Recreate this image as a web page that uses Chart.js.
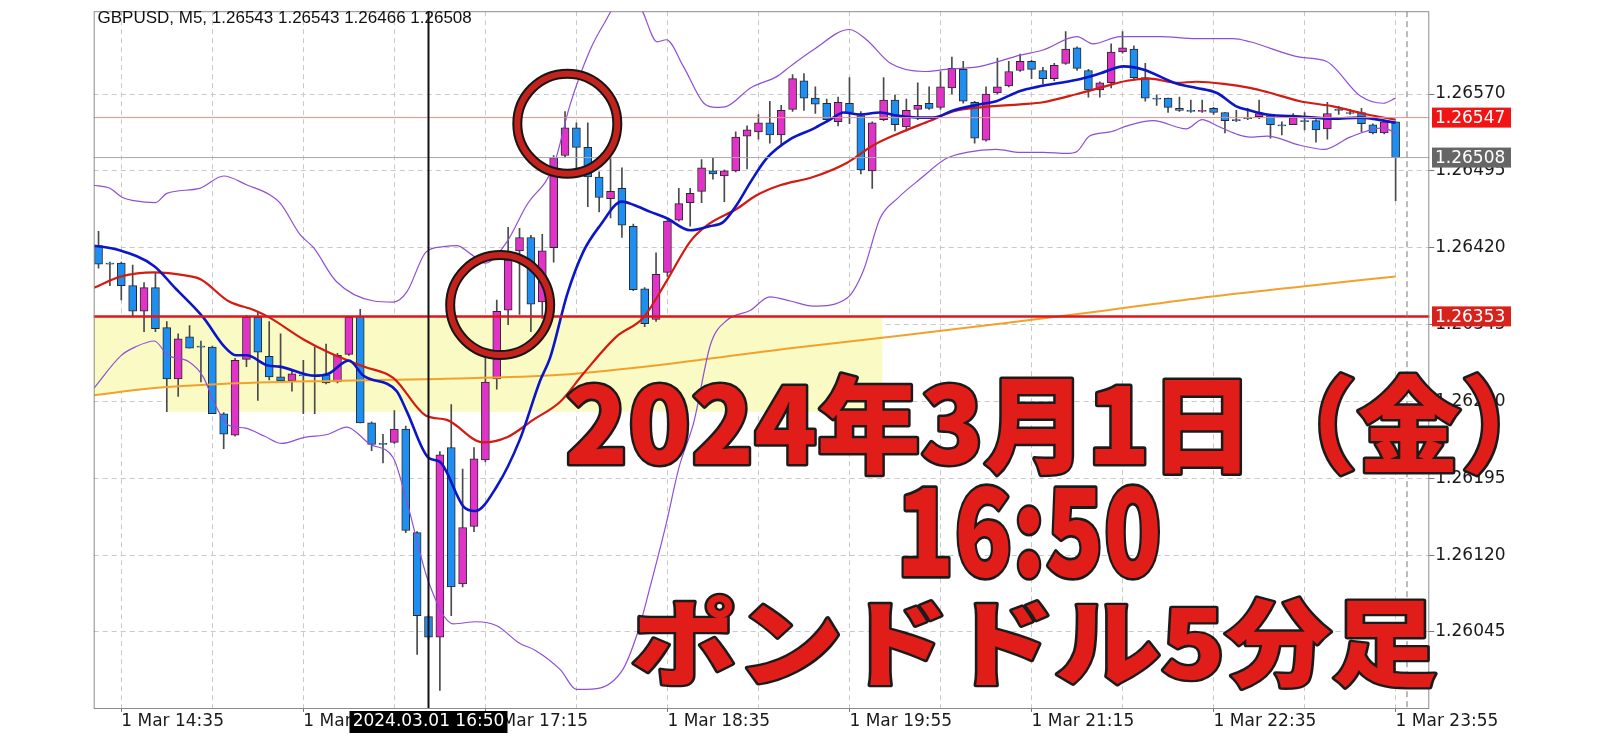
<!DOCTYPE html>
<html>
<head>
<meta charset="utf-8">
<script src="https://cdn.jsdelivr.net/npm/chart.js@4.4.1/dist/chart.umd.min.js"></script>
<style>
  html, body { margin: 0; padding: 0; background: #fff; overflow: hidden; }
</style>
</head>
<body>
<canvas id="myChart" width="1600" height="739"></canvas>
<script>
// GBPUSD M5, 1 Mar 14:25 .. 23:55 (bar index 0 = 14:25)
const openP = [1.26422,1.26405,1.26405,1.26383,1.26358,1.26381,1.26342,1.26292,1.26333,1.26324,
  1.26323,1.26258,1.26237,1.26311,1.26352,1.26314,1.26294,1.26290,1.26296,1.26295,
  1.26296,1.26289,1.26316,1.26353,1.26249,1.26229,1.26230,1.26243,1.26142,1.26060,
  1.26040,1.26225,1.26092,1.26148,1.26213,1.26292,1.26359,1.26417,1.26430,1.26367,
  1.26420,1.26510,1.26537,1.26518,1.26489,1.26468,1.26478,1.26441,1.26380,1.26350,
  1.26396,1.26447,1.26464,1.26475,1.26495,1.26490,1.26495,1.26529,1.26533,1.26542,
  1.26530,1.26555,1.26583,1.26566,1.26561,1.26543,1.26561,1.26549,1.26495,1.26545,
  1.26564,1.26538,1.26555,1.26561,1.26557,1.26576,1.26594,1.26562,1.26525,1.26571,
  1.26578,1.26593,1.26602,1.26593,1.26585,1.26600,1.26615,1.26593,1.26574,1.26581,
  1.26611,1.26614,1.26586,1.26566,1.26566,1.26556,1.26554,1.26553,1.26556,1.26552,
  1.26545,1.26547,1.26548,1.26549,1.26540,1.26540,1.26544,1.26544,1.26536,1.26555,
  1.26552,1.26552,1.26540,1.26532,1.26543];
const highP = [1.26436,1.26406,1.26406,1.26403,1.26386,1.26395,1.26348,1.26336,1.26344,1.26329,
  1.26324,1.26259,1.26312,1.26354,1.26357,1.26348,1.26336,1.26301,1.26310,1.26323,
  1.26326,1.26317,1.26353,1.26360,1.26250,1.26238,1.26261,1.26246,1.26143,1.26061,
  1.26221,1.26267,1.26204,1.26225,1.26314,1.26369,1.26440,1.26439,1.26432,1.26433,
  1.26510,1.26553,1.26542,1.26542,1.26494,1.26507,1.26498,1.26443,1.26381,1.26415,
  1.26447,1.26478,1.26478,1.26506,1.26508,1.26496,1.26533,1.26539,1.26550,1.26563,
  1.26559,1.26589,1.26590,1.26577,1.26565,1.26567,1.26586,1.26553,1.26543,1.26586,
  1.26569,1.26565,1.26581,1.26577,1.26592,1.26606,1.26602,1.26563,1.26577,1.26605,
  1.26602,1.26609,1.26603,1.26596,1.26600,1.26631,1.26616,1.26594,1.26582,1.26619,
  1.26631,1.26617,1.26600,1.26569,1.26566,1.26567,1.26564,1.26564,1.26557,1.26552,
  1.26554,1.26556,1.26564,1.26550,1.26543,1.26551,1.26552,1.26545,1.26562,1.26558,
  1.26555,1.26556,1.26541,1.26544,1.26543];
const lowP = [1.26400,1.26383,1.26369,1.26353,1.26338,1.26338,1.26260,1.26275,1.26322,1.26289,
  1.26258,1.26224,1.26236,1.26304,1.26271,1.26291,1.26289,1.26280,1.26258,1.26258,
  1.26287,1.26288,1.26315,1.26249,1.26222,1.26210,1.26229,1.26142,1.26023,1.26038,
  1.25988,1.26061,1.26089,1.26143,1.26211,1.26282,1.26345,1.26355,1.26338,1.26351,
  1.26406,1.26508,1.26497,1.26460,1.26455,1.26449,1.26430,1.26378,1.26343,1.26348,
  1.26392,1.26446,1.26441,1.26464,1.26487,1.26465,1.26494,1.26497,1.26526,1.26522,
  1.26520,1.26553,1.26554,1.26551,1.26544,1.26539,1.26541,1.26492,1.26478,1.26544,
  1.26534,1.26534,1.26545,1.26555,1.26555,1.26570,1.26561,1.26522,1.26524,1.26570,
  1.26577,1.26592,1.26585,1.26580,1.26583,1.26599,1.26593,1.26567,1.26567,1.26576,
  1.26610,1.26585,1.26563,1.26559,1.26552,1.26553,1.26552,1.26552,1.26550,1.26532,
  1.26543,1.26545,1.26546,1.26527,1.26530,1.26540,1.26535,1.26523,1.26526,1.26550,
  1.26550,1.26533,1.26531,1.26531,1.26466];
const closeP = [1.26404,1.26404,1.26383,1.26358,1.26381,1.26341,1.26292,1.26331,1.26322,1.26323,
  1.26258,1.26238,1.26310,1.26352,1.26318,1.26294,1.26290,1.26297,1.26295,1.26296,
  1.26288,1.26315,1.26352,1.26249,1.26228,1.26228,1.26243,1.26144,1.26061,1.26040,
  1.26218,1.26089,1.26147,1.26214,1.26289,1.26358,1.26408,1.26430,1.26365,1.26417,
  1.26508,1.26537,1.26518,1.26489,1.26469,1.26475,1.26442,1.26379,1.26346,1.26394,
  1.26446,1.26463,1.26473,1.26498,1.26492,1.26495,1.26528,1.26535,1.26542,1.26530,
  1.26554,1.26585,1.26566,1.26560,1.26545,1.26562,1.26552,1.26496,1.26542,1.26564,
  1.26540,1.26554,1.26559,1.26556,1.26577,1.26595,1.26563,1.26527,1.26570,1.26577,
  1.26592,1.26602,1.26594,1.26585,1.26598,1.26614,1.26595,1.26574,1.26581,1.26611,
  1.26615,1.26586,1.26566,1.26565,1.26557,1.26554,1.26553,1.26554,1.26552,1.26544,
  1.26544,1.26546,1.26551,1.26540,1.26539,1.26547,1.26543,1.26535,1.26551,1.26554,
  1.26551,1.26541,1.26532,1.26543,1.26508];

// indicator lines: [bar index, price]
const fastMA = [[-0.4,1.26422],[1.7,1.26418],[4.9,1.26402],[6.7,1.26381],[9.2,1.26352],[11.1,1.26323],
  [12.1,1.26315],[13.0,1.26315],[14.9,1.26305],[15.9,1.26304],[19.0,1.26295],[20.2,1.26297],[22.0,1.26310],
  [23.3,1.26295],[26.2,1.26280],[27.1,1.26260],[29.0,1.26215],[30.0,1.26211],[32.1,1.26167],[33.1,1.26163],
  [35.0,1.26187],[37.0,1.26232],[38.8,1.26290],[39.7,1.26313],[41.2,1.26375],[42.6,1.26416],[44.1,1.26442],
  [46.0,1.26465],[47.0,1.26462],[48.5,1.26455],[49.9,1.26449],[52.0,1.26437],[53.7,1.26441],[54.9,1.26445],
  [56.1,1.26462],[57.3,1.26484],[58.7,1.26507],[60.8,1.26526],[62.8,1.26536],[64.3,1.26545],[65.5,1.26552],
  [66.9,1.26550],[68.7,1.26552],[70.2,1.26549],[72.2,1.26547],[73.4,1.26547],[75.1,1.26554],[77.5,1.26560],
  [78.9,1.26563],[81.0,1.26573],[82.5,1.26577],[86.0,1.26584],[88.0,1.26590],[90.1,1.26597],[91.8,1.26594],
  [94.8,1.26580],[96.5,1.26576],[98.3,1.26571],[100.0,1.26558],[101.2,1.26554],[102.7,1.26550],[105.6,1.26548],
  [108.5,1.26546],[110.9,1.26547],[114,1.26542]];
const midBand = [[-0.4,1.26381],[2.0,1.26392],[4.9,1.26396],[7.6,1.26393],[9.0,1.26389],[11.4,1.26368],
  [13.7,1.26359],[15.0,1.26352],[18.1,1.26330],[20.2,1.26318],[23.3,1.26304],[25.9,1.26293],[28.8,1.26256],
  [30.6,1.26252],[33.8,1.26230],[35.9,1.26235],[38.2,1.26252],[40.6,1.26270],[42.6,1.26297],[45.5,1.26333],
  [47.9,1.26352],[49.9,1.26387],[52.0,1.26426],[53.5,1.26442],[56.1,1.26458],[57.8,1.26471],[59.9,1.26481],
  [62.8,1.26489],[65.8,1.26503],[68.1,1.26520],[70.2,1.26531],[73.1,1.26544],[75.1,1.26553],[77.5,1.26557],
  [81.0,1.26560],[83.0,1.26562],[86.0,1.26570],[88.3,1.26577],[90.4,1.26583],[92.4,1.26585],[94.8,1.26581],
  [96.5,1.26582],[98.9,1.26580],[101.2,1.26576],[102.7,1.26572],[105.6,1.26563],[108.5,1.26558],[111.5,1.26550],
  [114,1.26545]];
const slowMA = [[-0.4,1.26276],[4.9,1.26283],[10.8,1.26287],[20.2,1.26290],[30.0,1.26292],[40.6,1.26296],
  [51.1,1.26308],[60.8,1.26322],[70.4,1.26334],[80.1,1.26347],[88.0,1.26358],[96.8,1.26371],[105.6,1.26382],
  [114,1.26392]];
const upperBand = [[-0.5,1.26481],[1.0,1.26478],[2.1,1.26469],[3.1,1.26466],[5.0,1.26464],[6.0,1.26473],
  [8.9,1.26478],[11.0,1.26490],[13.1,1.26481],[15.0,1.26472],[16.0,1.26463],[17.7,1.26433],[18.9,1.26420],
  [20.9,1.26387],[24.2,1.26368],[25.9,1.26367],[27.1,1.26377],[28.8,1.26416],[30.3,1.26421],[31.5,1.26422],
  [32.7,1.26414],[34.0,1.26405],[35.9,1.26426],[37.6,1.26461],[40.0,1.26500],[41.4,1.26558],[43.2,1.26613],
  [44.5,1.26640],[45.5,1.26656],[47.4,1.26656],[49.1,1.26621],[49.9,1.26623],[51.4,1.26597],[53.2,1.26561],
  [54.3,1.26557],[55.2,1.26558],[57.3,1.26576],[59.6,1.26587],[60.8,1.26597],[62.8,1.26613],[66.0,1.26633],
  [67.5,1.26623],[69.6,1.26600],[72.5,1.26592],[74.5,1.26594],[77.5,1.26597],[81.0,1.26608],[83.0,1.26613],
  [86.0,1.26626],[87.4,1.26619],[89.8,1.26626],[93.3,1.26626],[96.5,1.26624],[99.7,1.26624],[101.2,1.26621],
  [105.6,1.26606],[107.9,1.26602],[110.9,1.26568],[112.9,1.26561],[114,1.26566]];
const lowerBand = [[-0.4,1.26283],[2.0,1.26315],[3.2,1.26323],[4.9,1.26329],[6.1,1.26315],[7.9,1.26309],
  [9.2,1.26294],[10.2,1.26268],[11.4,1.26247],[12.9,1.26244],[14.6,1.26236],[16.1,1.26229],[18.1,1.26235],
  [20.2,1.26238],[21.8,1.26245],[23.9,1.26228],[25.9,1.26215],[27.1,1.26172],[29.0,1.26094],[31.2,1.26053],
  [33.2,1.26055],[35.0,1.26051],[37.0,1.26034],[38.4,1.26027],[40.6,1.26008],[42.0,1.25989],[42.9,1.25989],
  [46.0,1.26007],[47.4,1.26045],[48.5,1.26090],[49.9,1.26151],[51.0,1.26205],[52.3,1.26249],[53.8,1.26326],
  [55.2,1.26349],[57.3,1.26359],[59.0,1.26372],[60.8,1.26368],[62.8,1.26363],[65.8,1.26371],[67.2,1.26397],
  [68.7,1.26449],[70.2,1.26468],[72.2,1.26487],[74.5,1.26507],[76.3,1.26513],[78.9,1.26516],[81.0,1.26513],
  [83.0,1.26513],[85.1,1.26512],[86.0,1.26514],[87.1,1.26529],[88.9,1.26533],[90.4,1.26539],[92.7,1.26544],
  [95.6,1.26536],[97.0,1.26545],[98.3,1.26539],[100.0,1.26531],[101.2,1.26528],[102.7,1.26529],[105.6,1.26520],
  [107.7,1.26516],[110.0,1.26528],[112.9,1.26537],[114,1.26532]];

const priceTicks = [1.26045, 1.26120, 1.26195, 1.26270, 1.26345, 1.26420, 1.26495, 1.26570];
const gridIndex = [2, 10, 18, 26, 34, 42, 50, 58, 66, 74, 82, 90, 98, 106, 114];
const timeLabels = {2: '1 Mar 14:35', 18: '1 Mar 15:55', 34: '1 Mar 17:15', 50: '1 Mar 18:35',
  66: '1 Mar 19:55', 82: '1 Mar 21:15', 98: '1 Mar 22:35', 114: '1 Mar 23:55'};

// highlighted zone (bar index / price corners)
const zoneLeft = -0.425, zoneStep = 6.1, zoneRight = 68.9;
const zoneTop = 1.26352, zoneBottom = 1.26260, zoneStepLow = 1.26284, zoneEdgeLow = 1.26276;

const levelSupport = 1.26353;
const levelAsk = 1.26547;
const levelBid = 1.26508;
const cursorIndex = 29;
const cursorText = '2024.03.01 16:50';
const titleText = 'GBPUSD, M5, 1.26543 1.26543 1.26466 1.26508';

const bullColor = '#e233c8';
const bearColor = '#1e8ef0';
const axisFont = '"DejaVu Sans", sans-serif';

const idx = openP.map((v, i) => i);
const toXY = arr => arr.map(p => ({x: p[0], y: p[1]}));

function fitText(ctx, txt, x0, x1, y0, y1) {
  ctx.save();
  ctx.font = '900 100px "Noto Sans CJK JP", sans-serif';
  const m = ctx.measureText(txt);
  const w = m.actualBoundingBoxLeft + m.actualBoundingBoxRight;
  const h = m.actualBoundingBoxAscent + m.actualBoundingBoxDescent;
  const sx = (x1 - x0) / w, sy = (y1 - y0) / h;
  ctx.translate(x0, y0);
  ctx.scale(sx, sy);
  ctx.lineJoin = 'round';
  ctx.lineWidth = 5 / ((sx + sy) / 2);
  ctx.strokeStyle = '#1b1b1b';
  ctx.strokeText(txt, m.actualBoundingBoxLeft, m.actualBoundingBoxAscent);
  ctx.fillStyle = '#e11d1a';
  ctx.fillText(txt, m.actualBoundingBoxLeft, m.actualBoundingBoxAscent);
  ctx.restore();
}

function priceBox(ctx, y, text, bg) {
  ctx.fillStyle = bg;
  ctx.fillRect(1432, y - 10, 79, 20);
  ctx.fillStyle = '#fff';
  ctx.font = '17px ' + axisFont;
  ctx.textAlign = 'left';
  ctx.textBaseline = 'middle';
  ctx.fillText(text, 1435, y + 1);
}

const overlay = {
  id: 'overlay',
  beforeDatasetsDraw(chart) {
    const {ctx, scales: {x, y}} = chart;
    ctx.save();
    ctx.fillStyle = 'rgb(250, 250, 196)';
    ctx.beginPath();
    ctx.moveTo(x.getPixelForValue(zoneLeft), y.getPixelForValue(zoneTop));
    ctx.lineTo(x.getPixelForValue(zoneRight), y.getPixelForValue(zoneTop));
    ctx.lineTo(x.getPixelForValue(zoneRight), y.getPixelForValue(zoneBottom));
    ctx.lineTo(x.getPixelForValue(zoneStep), y.getPixelForValue(zoneBottom));
    ctx.lineTo(x.getPixelForValue(zoneStep), y.getPixelForValue(zoneStepLow));
    ctx.lineTo(x.getPixelForValue(zoneLeft), y.getPixelForValue(zoneEdgeLow));
    ctx.closePath();
    ctx.fill();
    ctx.restore();
  },
  afterDraw(chart) {
    const {ctx, scales: {x, y}, chartArea: a} = chart;
    ctx.save();
    // price levels
    const ys = y.getPixelForValue(levelSupport);
    const ya = y.getPixelForValue(levelAsk);
    const yb = y.getPixelForValue(levelBid);
    ctx.lineWidth = 1;
    ctx.strokeStyle = '#f08a8a';
    ctx.beginPath(); ctx.moveTo(a.left, ya); ctx.lineTo(a.right, ya); ctx.stroke();
    ctx.strokeStyle = '#a8a8a8';
    ctx.beginPath(); ctx.moveTo(a.left, yb); ctx.lineTo(a.right, yb); ctx.stroke();
    ctx.lineWidth = 2.5;
    ctx.strokeStyle = '#e0141a';
    ctx.beginPath(); ctx.moveTo(a.left, ys); ctx.lineTo(a.right, ys); ctx.stroke();

    // chart shift marker
    ctx.lineWidth = 1;
    ctx.strokeStyle = '#777';
    ctx.setLineDash([6, 4]);
    const xs = x.getPixelForValue(115);
    ctx.beginPath(); ctx.moveTo(xs, a.top); ctx.lineTo(xs, a.bottom); ctx.stroke();
    ctx.setLineDash([]);

    // frame
    ctx.strokeStyle = '#8c8c8c';
    ctx.strokeRect(a.left + 0.5, a.top + 0.5, a.right - a.left - 1, a.bottom - a.top);

    // crosshair
    const xc = x.getPixelForValue(cursorIndex);
    ctx.strokeStyle = '#111';
    ctx.lineWidth = 2;
    ctx.beginPath(); ctx.moveTo(xc, a.top); ctx.lineTo(xc, a.bottom); ctx.stroke();
    ctx.fillStyle = '#000';
    ctx.fillRect(xc - 79, a.bottom + 3, 158, 22);
    ctx.fillStyle = '#fff';
    ctx.font = '17px ' + axisFont;
    ctx.textAlign = 'center';
    ctx.textBaseline = 'middle';
    ctx.fillText(cursorText, xc, a.bottom + 14);

    priceBox(ctx, ya, levelAsk.toFixed(5), '#f01414');
    priceBox(ctx, yb, levelBid.toFixed(5), '#666666');
    priceBox(ctx, ys, levelSupport.toFixed(5), '#d8231c');

    // title
    ctx.fillStyle = '#111';
    ctx.font = '17px "Liberation Sans", Arial, sans-serif';
    ctx.textAlign = 'left';
    ctx.textBaseline = 'alphabetic';
    ctx.fillText(titleText, 97.5, 23);

    // circles
    [[41.2, 1.26541], [35.3, 1.26364]].forEach(c => {
      const cx = x.getPixelForValue(c[0]), cy = y.getPixelForValue(c[1]);
      ctx.beginPath(); ctx.arc(cx, cy, 50, 0, Math.PI * 2);
      ctx.lineWidth = 10; ctx.strokeStyle = '#161616'; ctx.stroke();
      ctx.lineWidth = 6; ctx.strokeStyle = '#c4221d'; ctx.stroke();
    });

    // caption
    fitText(ctx, '2024年3月1日（金）', 568, 1498, 373, 476);
    fitText(ctx, '16:50', 903, 1158, 486, 577);
    fitText(ctx, 'ポンドドル5分足', 633, 1435, 595, 689);
    ctx.restore();
  }
};

const ctx = document.getElementById('myChart').getContext('2d');
const lineDs = (data, color, width, order) => ({
  type: 'line', data: toXY(data), borderColor: color, borderWidth: width,
  pointRadius: 0, cubicInterpolationMode: 'monotone', order: order
});

new Chart(ctx, {
  type: 'bar',
  data: {
    datasets: [
      {
        data: idx.map(i => ({x: i, y: [lowP[i], highP[i]]})),
        backgroundColor: '#4a4a4a', barThickness: 1, grouped: false, order: 9
      },
      {
        data: idx.map(i => ({x: i, y: [openP[i], closeP[i]]})),
        backgroundColor: idx.map(i => closeP[i] > openP[i] ? bullColor : bearColor),
        borderColor: '#2a2a2a', borderWidth: 1, borderSkipped: false,
        barThickness: 8, grouped: false, order: 8
      },
      lineDs(slowMA, '#f2a12c', 2, 5),
      lineDs(upperBand, '#8e4fd6', 1.2, 4),
      lineDs(lowerBand, '#8e4fd6', 1.2, 4),
      lineDs(midBand, '#d21c12', 2.2, 2),
      lineDs(fastMA, '#0b16c8', 2.6, 1)
    ]
  },
  options: {
    responsive: false,
    animation: false,
    devicePixelRatio: 1,
    layout: { padding: { left: 93.7, top: 4.3, right: 0, bottom: 0 } },
    plugins: { legend: { display: false }, tooltip: { enabled: false } },
    scales: {
      x: {
        type: 'linear', min: -0.425, max: 116.96, offset: false,
        afterBuildTicks: s => { s.ticks = gridIndex.map(v => ({value: v})); },
        afterFit: s => { s.height = 31; },
        ticks: {
          autoSkip: false, maxRotation: 0, align: 'start', padding: -1,
          color: '#1a1a1a', font: { family: axisFont, size: 17 },
          callback: v => timeLabels[v] || ''
        },
        grid: {
          offset: false, color: '#c9c9c9', drawTicks: true, tickLength: 4,
          tickColor: c => (c.tick && timeLabels[c.tick.value]) ? '#777' : 'rgba(0,0,0,0)'
        },
        border: { display: false, dash: [5, 4] }
      },
      y: {
        position: 'right', min: 1.259708, max: 1.2665085,
        afterBuildTicks: s => { s.ticks = priceTicks.map(v => ({value: v})); },
        afterFit: s => { s.width = 170.7; },
        ticks: {
          padding: 1, color: '#1a1a1a', font: { family: axisFont, size: 17 },
          callback: v => v.toFixed(5)
        },
        grid: { color: '#c9c9c9', drawTicks: true, tickLength: 5, tickColor: '#777' },
        border: { display: false, dash: [5, 4] }
      }
    }
  },
  plugins: [overlay]
});
</script>
</body>
</html>
